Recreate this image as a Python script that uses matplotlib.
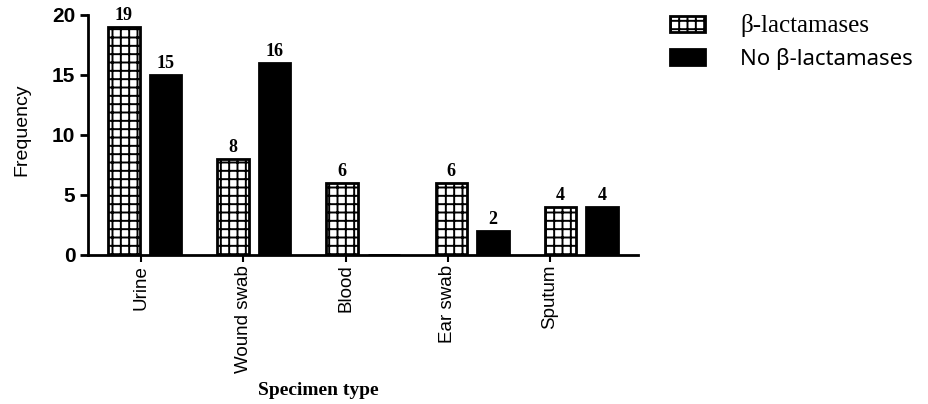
import matplotlib.pyplot as plt
import numpy as np

# data
specimens = ['Urine', 'Wound swab', 'Blood', 'Ear swab', 'Sputum']
beta_lact = [19, 8, 6, 6, 4]
no_beta_lact = [15, 16, 0, 2, 4]
series_names = ['β-lactamases', 'No β-lactamases']

plt.rcParams['hatch.linewidth'] = 1.4

fig = plt.figure(figsize=(9.29, 4.04), dpi=100)
ax = fig.add_axes([0.0947, 0.369, 0.592, 0.594])

x = np.arange(len(specimens))
w = 0.29
off = 0.19

b1 = ax.bar(x - off, beta_lact, w, color='white', edgecolor='black',
            hatch='++', linewidth=2, label=series_names[0])
b2 = ax.bar(x + off, no_beta_lact, w, color='black', edgecolor='black',
            linewidth=2, label=series_names[1])

for bars, vals in [(b1, beta_lact), (b2, no_beta_lact)]:
    labels = [str(v) if v > 0 else '' for v in vals]
    ax.bar_label(bars, labels=labels, padding=2, fontsize=13,
                 fontweight='bold', family='Liberation Serif')

ax.set_xlim(-0.52, 4.52)
ax.set_ylim(0, 20)
ax.set_yticks([0, 5, 10, 15, 20])

# tick marks in the original sit a bit left of the bar groups
ax.set_xticks(x * 0.935 - 0.03)
ax.set_xticklabels(specimens, rotation=90, fontsize=13.5,
                   family='Liberation Sans')

for s in ['top', 'right']:
    ax.spines[s].set_visible(False)
for s in ['left', 'bottom']:
    ax.spines[s].set_linewidth(2)

ax.tick_params(axis='y', length=6, width=2, labelsize=15, pad=3)
ax.tick_params(axis='x', length=5, width=1.5, pad=2)
for t in ax.get_yticklabels():
    t.set_fontweight('bold')
    t.set_family('Liberation Sans')

ax.set_ylabel('Frequency', fontsize=14, family='Liberation Sans')
ax.yaxis.set_label_coords(-0.105, 0.52)
ax.set_xlabel('Specimen type', fontsize=14, fontweight='bold',
              family='Liberation Serif')
ax.xaxis.set_label_coords(0.418, -0.53)

leg = fig.legend(handles=[b1, b2], loc='upper left',
                 bbox_to_anchor=(0.700, 1.015), frameon=False,
                 prop={'family': 'Noto Sans', 'size': 16},
                 handlelength=1.55, handleheight=0.7, labelspacing=0.5,
                 handletextpad=1.6)
leg.get_texts()[0].set_family('Liberation Serif')
leg.get_texts()[0].set_fontsize(18)

fig.savefig('out.png', dpi=100)
